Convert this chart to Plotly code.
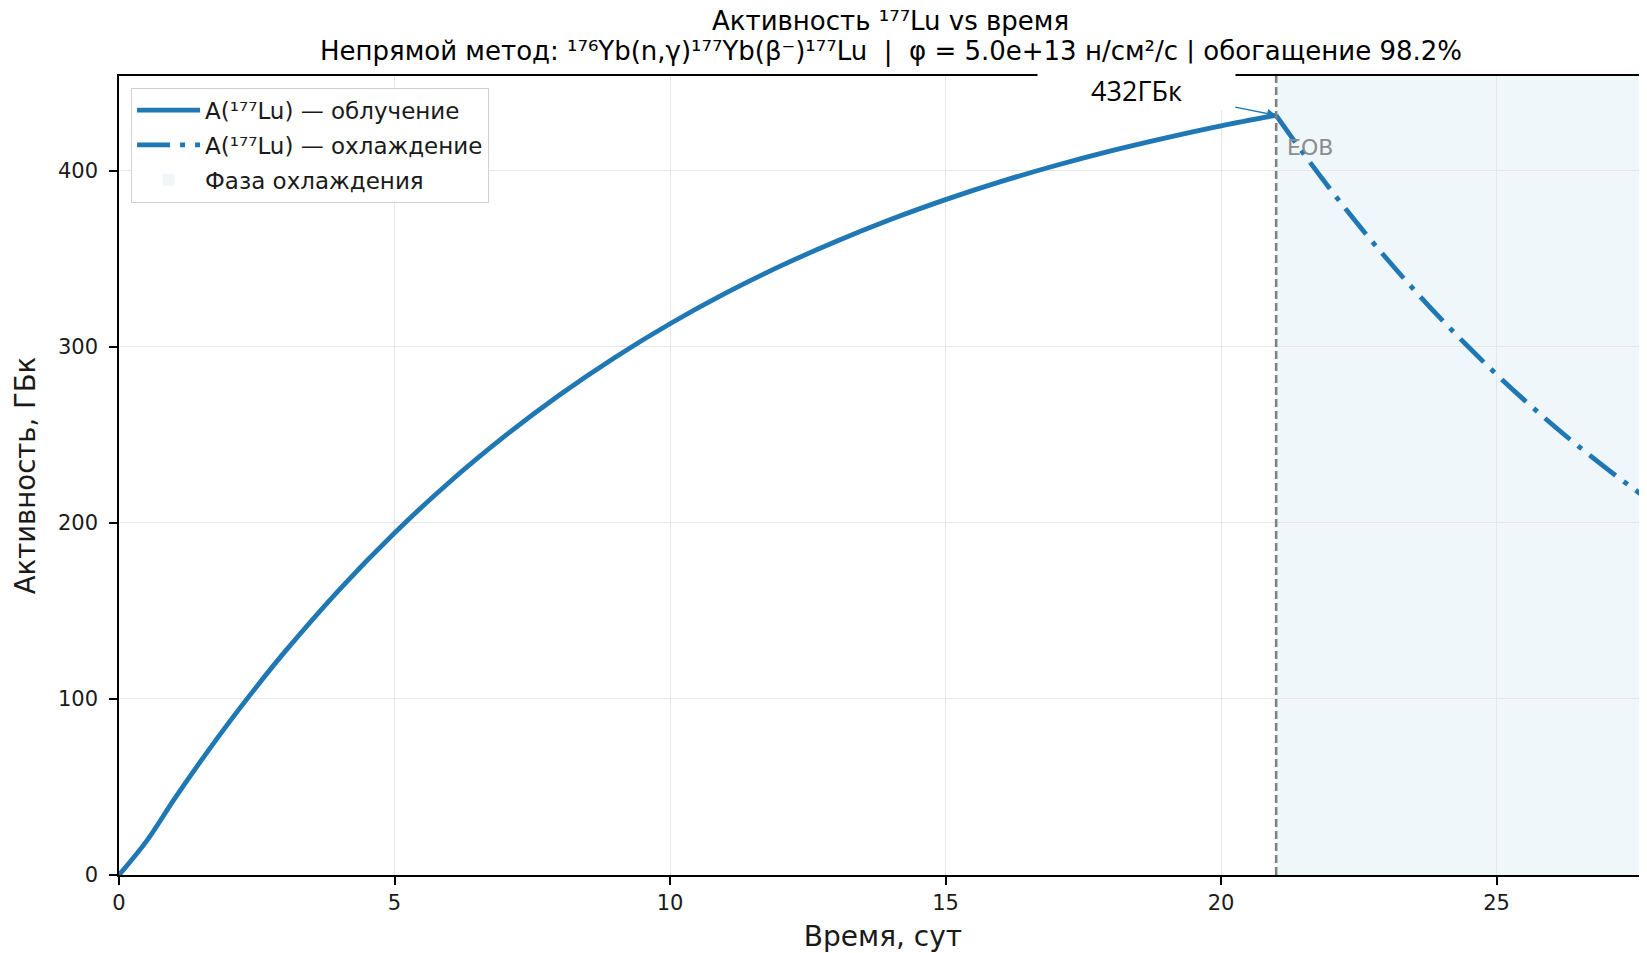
import plotly.graph_objects as go

# ---- data ----
t_irr = [0, 0.5, 1, 1.5, 2, 2.5, 3, 4, 5, 6, 7, 8, 9, 10, 11, 12, 13,
         14, 15, 16, 17, 18, 19, 20, 21]
a_irr = [0, 19.2, 42.9, 65.4, 86.8, 107.1, 126.4, 162.1, 194.2, 223.2,
         249.2, 272.7, 293.9, 313.0, 330.2, 345.7, 359.6, 372.2, 383.5, 393.7,
         402.9, 411.2, 418.6, 425.4, 431.4]
t_cool = [21, 21.5, 22, 22.5, 23, 23.5, 24, 24.5, 25, 25.5, 26, 26.5, 27, 27.5, 28]
a_cool = [431.4, 409.5, 388.7, 368.9, 350.2, 332.4, 315.5, 299.5, 284.2, 269.8,
          256.1, 243.1, 230.7, 219.0, 207.9]
t_eob = 21
t_end = 28
a_eob_label = "432ГБк"

names = ["A(¹⁷⁷Lu) — облучение", "A(¹⁷⁷Lu) — охлаждение", "Фаза охлаждения"]
title_1 = "Активность ¹⁷⁷Lu vs время"
title_2 = ("Непрямой метод: ¹⁷⁶Yb(n,γ)¹⁷⁷Yb(β⁻)¹⁷⁷Lu\u00a0\u00a0|\u00a0\u00a0φ = 5.0e+13 "
           "н/см²/с | обогащение 98.2%")
x_ticks = [0, 5, 10, 15, 20, 25]
y_ticks = [0, 100, 200, 300, 400]

BLUE = "#1f77b4"
FONT = "DejaVu Sans"
TXT = "#1a1a1a"

# page body adds an 8px offset: figure is sized/placed to compensate
W, H = 1639, 945
M_L, M_T, M_B = 111, 68, 78
PLOT_H = H - M_T - M_B


def paper_y(px):
    return 1 + (M_T - px) / PLOT_H


fig = go.Figure()
fig.add_trace(go.Scatter(x=t_irr, y=a_irr, mode="lines", name=names[0], legendgroup="g1",
                         line=dict(color=BLUE, width=4.8, shape="spline", smoothing=1)))
fig.add_trace(go.Scatter(x=t_cool, y=a_cool, mode="lines", name=names[1], legendgroup="g2",
                         line=dict(color=BLUE, width=4.8, shape="spline",
                                   dash="33px,10px,5px,10px")))

rect_kw = dict(type="rect", xref="x", yref="paper", x0=t_eob, x1=t_end, y0=0, y1=1,
               fillcolor="#f0f7fb", line=dict(width=0), showlegend=True, name=names[2],
               legendgroup="g3")
try:
    fig.add_shape(layer="between", **rect_kw)
except ValueError:
    fig.add_shape(layer="below", **rect_kw)

fig.add_vline(x=t_eob, line=dict(color="#808080", width=2.6, dash="8px,4px"))

title_x = (883 - M_L) / (W - M_L)
fig.add_annotation(xref="paper", yref="paper", x=title_x, y=paper_y(13.5), text=title_1,
                   showarrow=False, xanchor="center", yanchor="middle",
                   font=dict(family=FONT, size=26, color="black"))
fig.add_annotation(xref="paper", yref="paper", x=title_x, y=paper_y(44), text=title_2,
                   showarrow=False, xanchor="center", yanchor="middle",
                   font=dict(family=FONT, size=26, color="black"))

fig.add_annotation(x=t_eob, y=413, xref="x", yref="y", text="EOB", showarrow=False,
                   xanchor="left", yanchor="middle", xshift=9,
                   font=dict(family=FONT, size=22, color="#8c8c8c"))

fig.add_annotation(x=t_eob, y=431.4, xref="x", yref="y", text=a_eob_label,
                   showarrow=True, ax=-140, ay=-28, axref="pixel", ayref="pixel",
                   arrowcolor=BLUE, arrowwidth=1.4, arrowhead=2, arrowsize=1.3,
                   bgcolor="white", width=195, height=44, valign="bottom",
                   font=dict(family="Open Sans", size=27, color="black"))

fig.update_layout(
    width=W, height=H,
    paper_bgcolor="white", plot_bgcolor="white",
    margin=dict(l=M_L, r=0, t=M_T, b=M_B, autoexpand=False),
    font=dict(family=FONT, size=21, color=TXT),
    legend=dict(x=0.0079, y=0.9855, xanchor="left", yanchor="top",
                bgcolor="rgba(255,255,255,0.9)", bordercolor="#d0d0d0", borderwidth=1,
                font=dict(family=FONT, size=23, color=TXT),
                itemwidth=63, tracegroupgap=2),
    showlegend=True,
)
fig.update_xaxes(range=[0, 27.73], tickvals=x_ticks, showgrid=True, gridcolor="#e6e6e6",
                 gridwidth=1, zeroline=False, showline=True, linecolor="black",
                 linewidth=1.5, mirror=True, ticks="outside", ticklen=8, tickwidth=1.5,
                 tickcolor="black", tickfont=dict(size=21, color=TXT),
                 title=dict(text="Время, сут", font=dict(size=28, color=TXT),
                            standoff=12))
fig.update_yaxes(range=[0, 453.7], tickvals=y_ticks, showgrid=True, gridcolor="#e6e6e6",
                 gridwidth=1, zeroline=False, showline=True, linecolor="black",
                 linewidth=1.5, ticks="outside", ticklen=8, tickwidth=1.5,
                 tickcolor="black", tickfont=dict(size=21, color=TXT),
                 ticklabelstandoff=7,
                 title=dict(text="Активность, ГБк", font=dict(size=27.5, color=TXT),
                            standoff=14))

fig.write_html("out.html")
